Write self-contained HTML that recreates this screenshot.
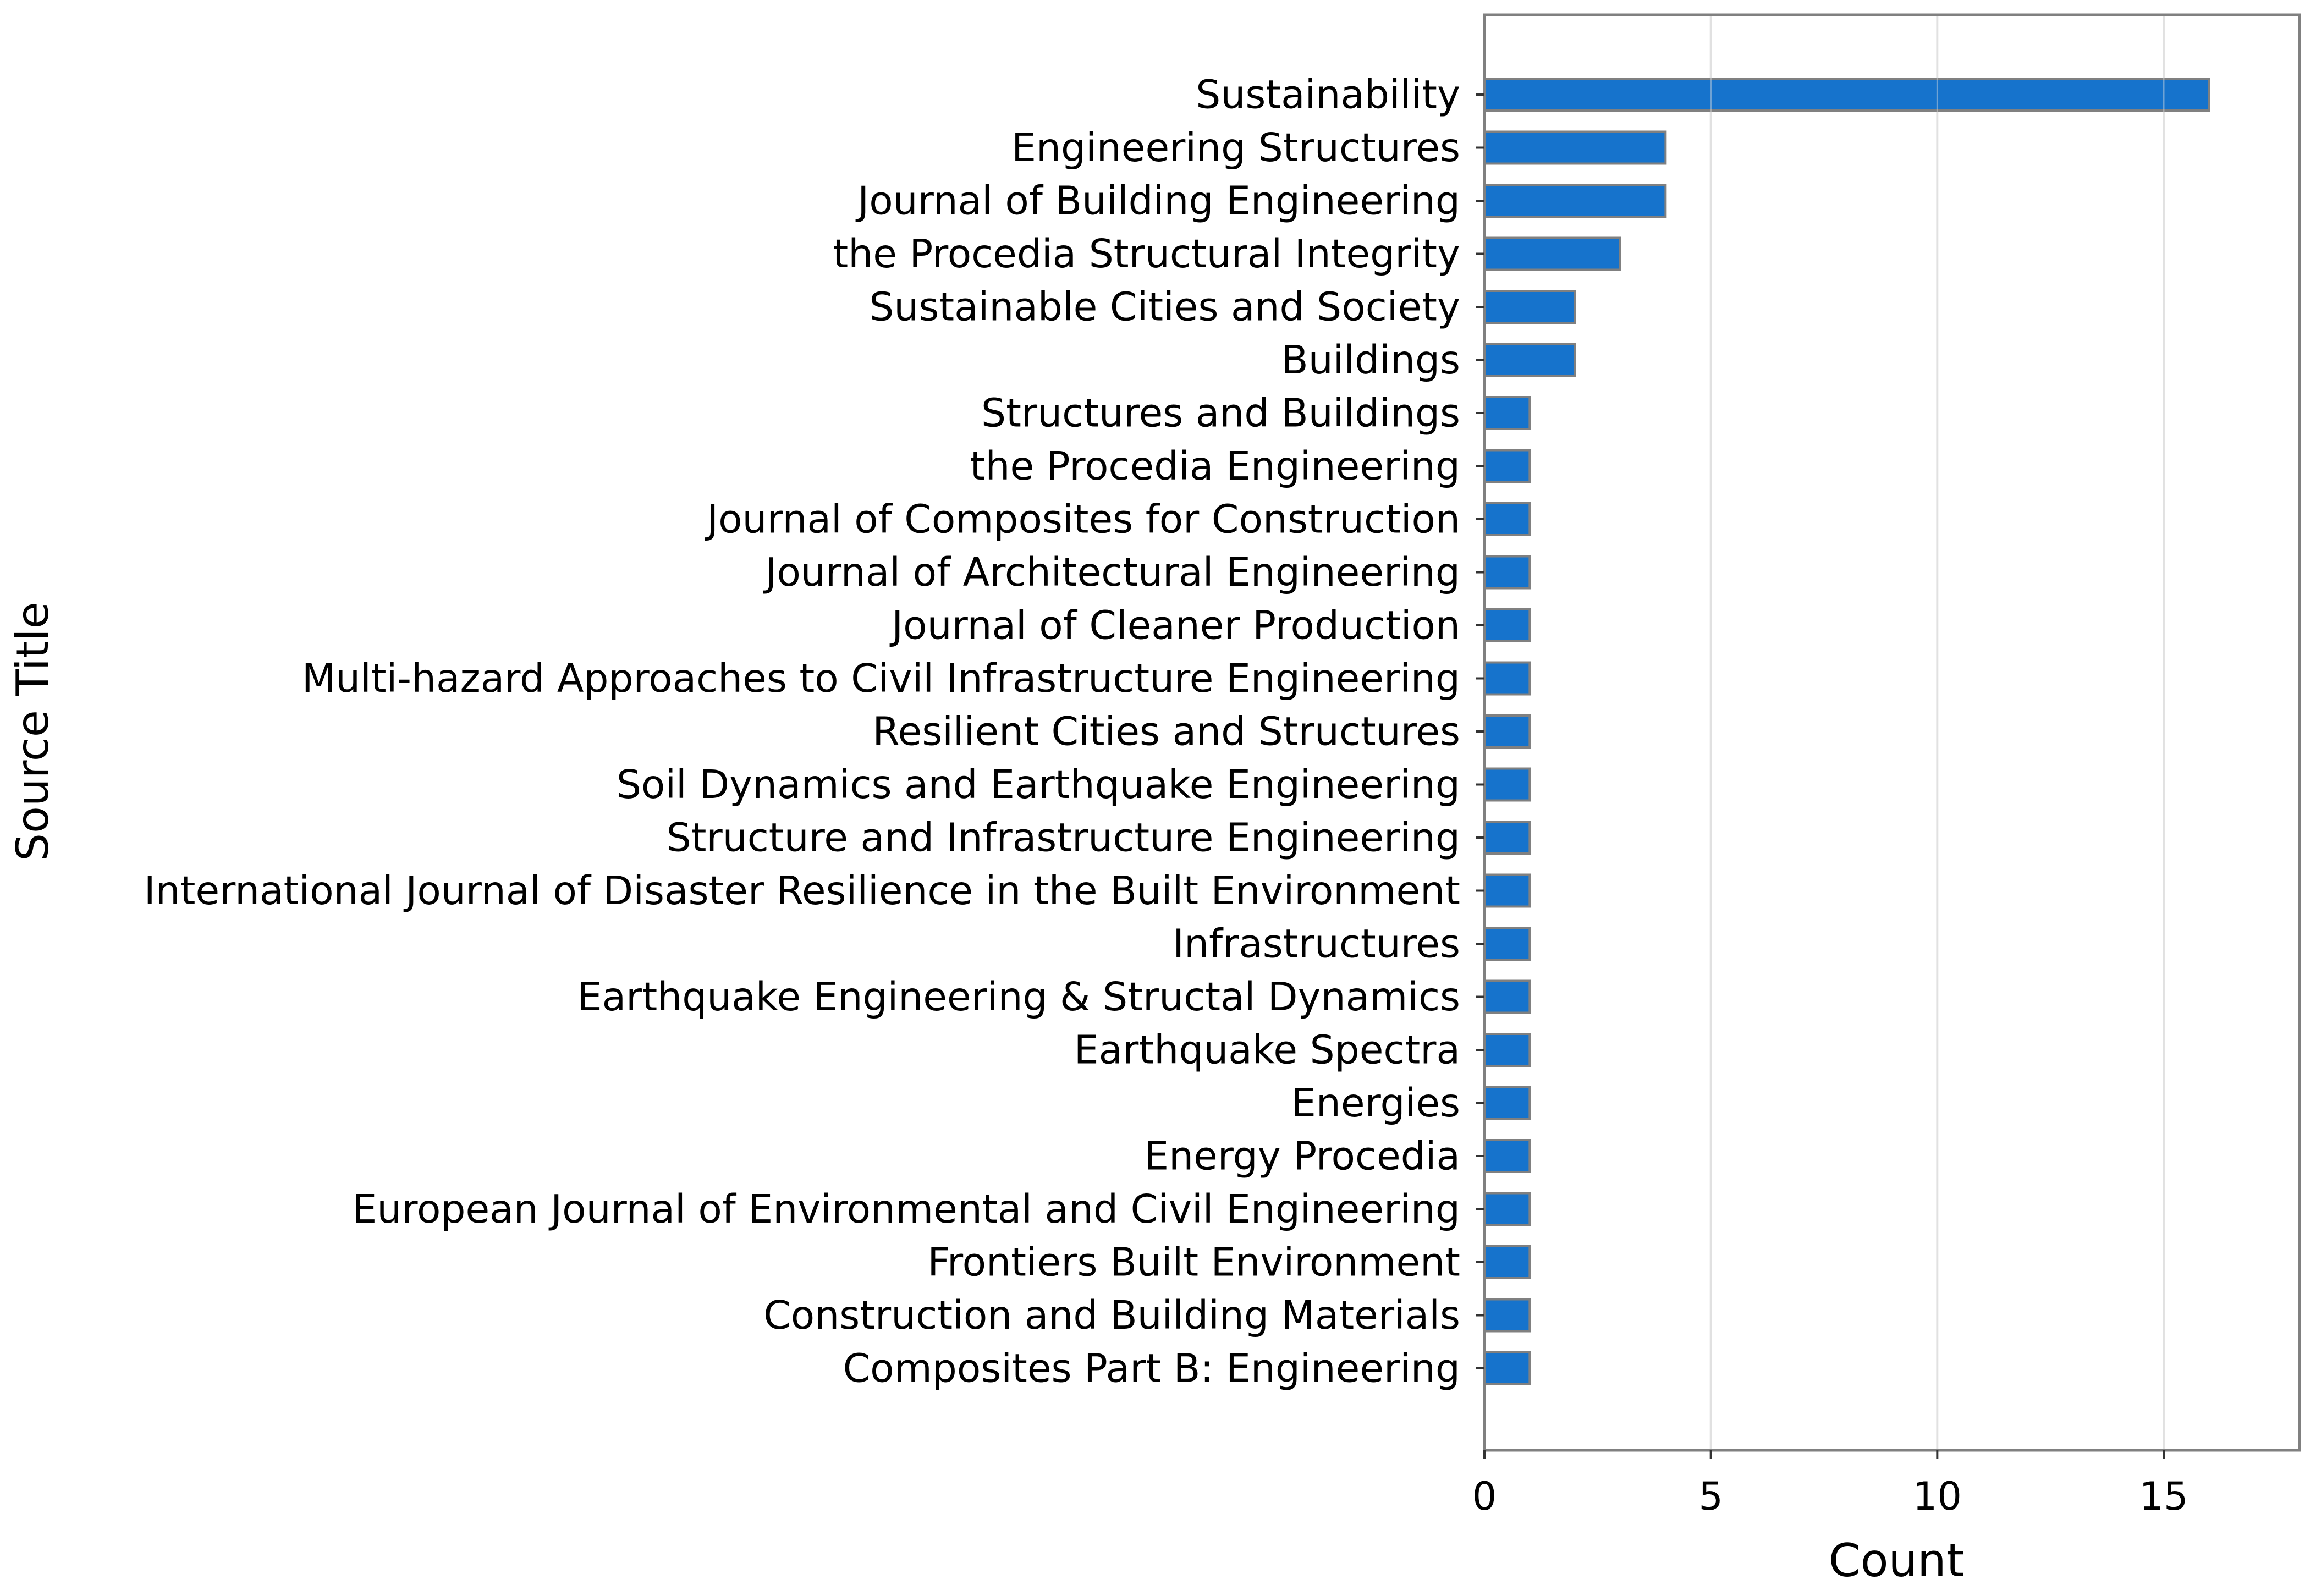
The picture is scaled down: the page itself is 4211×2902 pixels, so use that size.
<!DOCTYPE html>
<html><head><meta charset="utf-8">
<style>
html,body{margin:0;padding:0;background:#fff;}
svg{display:block;}
text{font-family:"DejaVu Sans","Liberation Sans",sans-serif;fill:#000;}
</style></head>
<body>
<svg id="chart" width="4211" height="2902" viewBox="0 0 4211 2902" xmlns="http://www.w3.org/2000/svg">
<rect x="0" y="0" width="4211" height="2902" fill="#fff"/>
<g id="grid"></g>
<g id="bars"></g>
<g id="gridTop"></g>
<rect x="2699" y="27" width="1482" height="2610" fill="none" stroke="#808080" stroke-width="5"/>
<g id="yaxis"></g>
<g id="xaxis"></g>
<text x="65" y="1330" font-size="80" text-anchor="middle" transform="rotate(-90 65 1330)" dominant-baseline="middle">Source Title</text>
<text x="3448" y="2866" font-size="83" text-anchor="middle">Count</text>
</svg>
<script>
const categories = ["Sustainability","Engineering Structures","Journal of Building Engineering","the Procedia Structural Integrity","Sustainable Cities and Society","Buildings","Structures and Buildings","the Procedia Engineering","Journal of Composites for Construction","Journal of Architectural Engineering","Journal of Cleaner Production","Multi-hazard Approaches to Civil Infrastructure Engineering","Resilient Cities and Structures","Soil Dynamics and Earthquake Engineering","Structure and Infrastructure Engineering","International Journal of Disaster Resilience in the Built Environment","Infrastructures","Earthquake Engineering & Structal Dynamics","Earthquake Spectra","Energies","Energy Procedia","European Journal of Environmental and Civil Engineering","Frontiers Built Environment","Construction and Building Materials","Composites Part B: Engineering"];
const counts = [16,4,4,3,2,2,1,1,1,1,1,1,1,1,1,1,1,1,1,1,1,1,1,1,1];
const xTicks = [0,5,10,15];
const xTickLabels = ["0","5","10","15"];
const xMax = 18;

const NS="http://www.w3.org/2000/svg";
const L=2699,R=4181,T=27,B=2637;
const firstY=172,lastY=2488;
function xs(v){return L+(R-L)*v/xMax;}
function ys(i){return firstY+(lastY-firstY)*i/(categories.length-1);}
const bh=58;
function mk(tag,attrs,parent){const e=document.createElementNS(NS,tag);for(const k in attrs)e.setAttribute(k,attrs[k]);parent.appendChild(e);return e;}
const grid=document.getElementById('grid'),gridTop=document.getElementById('gridTop'),bars=document.getElementById('bars'),ya=document.getElementById('yaxis'),xa=document.getElementById('xaxis');
xTicks.forEach((t,i)=>{
  if(t===0)return;
  const g=mk('line',{x1:xs(t),x2:xs(t),y1:T,y2:B,stroke:'#e3e3e3','stroke-width':4},grid);
  
  
  const g2=mk('line',{x1:xs(t),x2:xs(t),y1:T,y2:B,stroke:'#dddddd','stroke-width':3,'stroke-opacity':0.45},gridTop);
  
  
});
categories.forEach((c,i)=>{
  const y=ys(i);
  const r=mk('rect',{x:xs(0),y:y-bh/2,width:xs(counts[i])-xs(0),height:bh,fill:'#1673cc',stroke:'#808080','stroke-width':4},bars);
  
  
  const tk=mk('line',{x1:L-15,x2:L,y1:y,y2:y,stroke:'#333','stroke-width':4},ya);
  
  
  const tx=mk('text',{x:L-44,y:y,'font-size':71,'text-anchor':'end','dominant-baseline':'central'},ya);
  tx.textContent=c;
  
  
});
xTicks.forEach((t,i)=>{
  const tk=mk('line',{x1:xs(t),x2:xs(t),y1:B,y2:B+16,stroke:'#333','stroke-width':4},xa);
  
  
  const tx=mk('text',{x:xs(t),y:2745,'font-size':70,'text-anchor':'middle'},xa);
  tx.textContent=xTickLabels[i];
  
  
});
</script>
</body></html>
